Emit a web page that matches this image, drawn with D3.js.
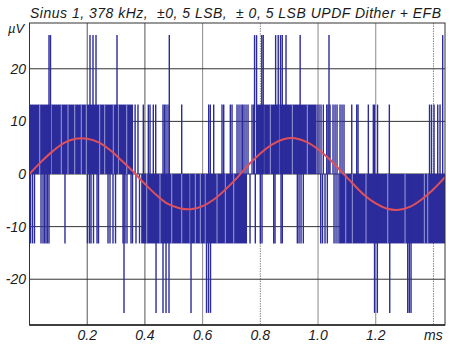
<!DOCTYPE html>
<html><head><meta charset="utf-8">
<script src="https://cdn.jsdelivr.net/npm/d3@7/dist/d3.min.js"></script>
<style>
body{margin:0;background:#fff;}
text{font-family:"Liberation Sans",Arial,sans-serif;font-style:italic;fill:#1a1a1a;}
</style>
</head><body><svg id="c" width="450" height="346"></svg>
<script>
// ---- data ----
const title = "Sinus 1, 378 kHz,  \u00b10, 5 LSB,  \u00b1 0, 5 LSB UPDF Dither + EFB";
const yUnit = "\u00b5V";
const yTicks = [-20, -10, 0, 10, 20];
const xTicks = [0.2, 0.4, 0.6, 0.8, 1.0, 1.2, 1.4];
const xTickLabels = ["0.2", "0.4", "0.6", "0.8", "1.0", "1.2", "ms"];
const lsb = 13.2; // µV per quantisation step

// red sine, time in ms, value in µV
const sineT = [0,0.04,0.08,0.12,0.16,0.20,0.24,0.28,0.32,0.36,0.40,0.44,0.48,0.52,0.56,0.60,0.64,0.68,0.72,0.76,0.80,0.84,0.88,0.92,0.96,1.00,1.04,1.08,1.12,1.16,1.20,1.24,1.28,1.32,1.36,1.40,1.44];
const sineV = [0,2.3,4.3,5.9,6.7,6.7,6.0,4.5,2.5,0.4,-1.9,-4.0,-5.7,-6.5,-6.7,-6.1,-4.8,-2.9,-0.7,1.8,3.9,5.6,6.6,6.8,6.1,4.7,2.8,0.5,-1.8,-4.0,-5.6,-6.6,-6.8,-6.2,-4.8,-2.9,-0.6];

// dense toggling regions of the dithered signal: [start ms, end ms, level in LSB]
const bandStart = [0.000, 0.387, 0.785, 1.073];
const bandEnd   = [0.359, 0.754, 0.993, 1.440];
const bandLevel = [1, -1, 1, -1];

// single excursions, time in ms
const spikesUp2 = [0.0676,0.0728,0.2097,0.2201,0.2305,0.3033,0.4845,0.780,0.787,0.805,0.810,0.853,0.862,0.870,0.876,0.889,0.938,1.038,1.432];
const spikesDown2 = [0.3275,0.4385,0.4627,0.4731,0.4835,0.5598,0.6135,0.6204,0.6273,1.1958,1.2055,1.2485,1.3108,1.3164,1.3223];
const linesUp1 = [0.366,0.376,0.3944,0.4118,0.4177,0.4291,0.4374,0.4627,0.4679,0.4731,0.4800,0.5275,0.6211,0.6267,0.6384,0.6672,0.6731,0.6960,0.7019,0.7192,0.7261,0.7331,0.7383,0.7435,0.7504,0.7573,0.7712,0.7771,0.9965,1.0034,1.0103,1.0183,1.0301,1.0346,1.0416,1.0519,1.0589,1.0658,1.0762,1.0831,1.0900,1.1168,1.1341,1.1386,1.1743,1.1916,1.1958,1.2062,1.2471,1.3864,1.3933,1.4020,1.4148,1.4228];
const linesDown1 = [0.0035,0.0104,0.0173,0.0399,0.0468,0.0520,0.0572,0.0624,0.0676,0.1230,0.2010,0.2080,0.2132,0.2218,0.2340,0.2392,0.2721,0.2790,0.2894,0.2981,0.3241,0.3310,0.3379,0.3518,0.3570,0.3691,0.3813,0.7643,0.7826,0.8000,0.8058,0.8464,0.8509,0.8717,0.8762,0.9282,0.9341,0.9410,0.9490,1.0093,1.0155,1.0242,1.0322,1.0554,1.0623,1.0693];
// light slivers inside the dense regions
const gapsUp = [0.0354,0.0756,0.1102,0.1334,0.1567,0.1795,0.1969,0.2433,0.2606,0.2904,0.3078,0.3369,0.8117,0.8346,0.8648,0.9109,0.9628];
const gapsDown = [0.4062,0.4523,0.4929,0.5275,0.5563,0.5747,0.5920,0.6093,0.6499,0.6787,0.7078,1.0960,1.1188,1.1663,1.2415,1.3015,1.3684,1.3801];

// ---- chart ----
const svg = d3.select("#c");
const x = d3.scaleLinear().domain([0, 1.44]).range([29.5, 445]);
const y = d3.scaleLinear().domain([-28.7, 28.7]).range([325, 23]);
const blue = "#2b2b9b";

// grid
svg.append("g").selectAll("line").data(xTicks).join("line")
  .attr("x1", d => x(d)).attr("x2", d => x(d)).attr("y1", y(28.7)).attr("y2", y(-28.7))
  .attr("stroke", (d,i) => i < 2 ? "#555" : "#8a8a8a").attr("stroke-width", 1)
  .attr("stroke-dasharray", d => (d === 0.8 || d === 1.4) ? "1.5,1" : null);
svg.append("g").selectAll("line").data(yTicks).join("line")
  .attr("x1", x(0)).attr("x2", x(1.44)).attr("y1", d => y(d)).attr("y2", d => y(d))
  .attr("stroke", "#333").attr("stroke-width", 1);

// dense bands
const bands = bandStart.map((s, i) => ({s, e: bandEnd[i], l: bandLevel[i]}));
svg.append("g").selectAll("rect").data(bands).join("rect")
  .attr("x", d => x(d.s)).attr("width", d => x(d.e) - x(d.s))
  .attr("y", d => y(Math.max(0, d.l * lsb))).attr("height", d => Math.abs(y(d.l * lsb) - y(0)))
  .attr("fill", blue);
// slivers
const gaps = gapsUp.map(t => ({t, l: 1})).concat(gapsDown.map(t => ({t, l: -1})));
svg.append("g").selectAll("line").data(gaps).join("line")
  .attr("x1", d => x(d.t)).attr("x2", d => x(d.t))
  .attr("y1", y(0)).attr("y2", d => y(d.l * lsb))
  .attr("stroke", "#c8c8f0").attr("stroke-width", 0.9).attr("opacity", 0.8);

// excursions
const spikes = [].concat(
  spikesUp2.map(t => ({t, a: 0, b: 2})),
  spikesDown2.map(t => ({t, a: 0, b: -2})),
  linesUp1.map(t => ({t, a: 0, b: 1})),
  linesDown1.map(t => ({t, a: 0, b: -1})));
svg.append("g").selectAll("line").data(spikes).join("line")
  .attr("x1", d => x(d.t)).attr("x2", d => x(d.t))
  .attr("y1", d => y(d.a * lsb)).attr("y2", d => y(d.b * lsb))
  .attr("stroke", blue).attr("stroke-width", 1.4);

// sine
const sine = sineT.map((t, i) => [t, sineV[i]]);
svg.append("path").datum(sine)
  .attr("d", d3.line().x(d => x(d[0])).y(d => y(d[1])).curve(d3.curveCatmullRom))
  .attr("fill", "none").attr("stroke", "#e0505a").attr("stroke-width", 2);

// frame
svg.append("rect").attr("x", x(0)).attr("y", y(28.7)).attr("width", x(1.44) - x(0)).attr("height", y(-28.7) - y(28.7))
  .attr("fill", "none").attr("stroke", "#333").attr("stroke-width", 1);
svg.append("line").attr("x1", x(0)).attr("x2", x(1.44)).attr("y1", y(-28.7)).attr("y2", y(-28.7))
  .attr("stroke", "#222").attr("stroke-width", 1.5);

// axis labels
svg.append("g").selectAll("text").data(yTicks).join("text")
  .attr("x", 26).attr("y", d => y(d)).attr("dy", "0.36em").attr("text-anchor", "end")
  .attr("font-size", 14).text(d => d);
svg.append("g").selectAll("text").data(xTicks).join("text")
  .attr("x", d => x(d)).attr("y", 340).attr("text-anchor", "middle")
  .attr("font-size", 14).text((d, i) => xTickLabels[i]);
svg.append("text").attr("x", 8).attr("y", 33).attr("font-size", 13).text(yUnit);
svg.append("text").attr("x", 30).attr("y", 18).attr("font-size", 14)
  .attr("textLength", 411).attr("lengthAdjust", "spacing")
  .style("white-space", "pre").text(title);
</script>
</body></html>
